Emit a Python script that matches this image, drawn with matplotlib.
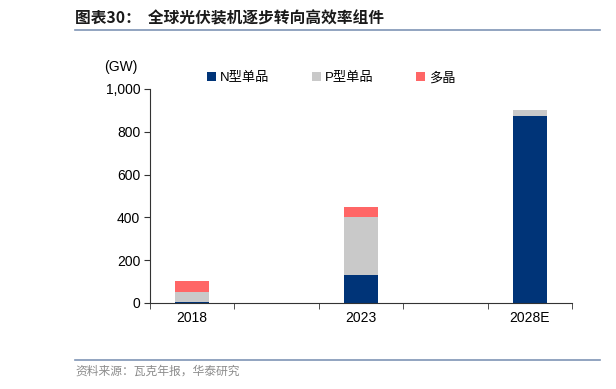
import matplotlib.pyplot as plt
from matplotlib.lines import Line2D
from matplotlib.patches import Patch

plt.rcParams['font.family'] = ['Liberation Sans', 'Noto Sans CJK SC', 'DejaVu Sans']

# 数据
anos = ['2018', '', '2023', '', '2028E']
n_mono = [6, 0, 131, 0, 874]
p_mono = [47, 0, 271, 0, 28]
poli = [51, 0, 47, 0, 0]
series_names = ['N型单品', 'P型单品', '多晶']
cores = ['#003478', '#C9C9C9', '#FF6666']

fig = plt.figure(figsize=(6.16, 3.89), dpi=100)
ax = fig.add_axes([150 / 616, 1 - 303 / 389, 422 / 616, 214 / 389])

x = list(range(len(anos)))
base2 = [a + b for a, b in zip(n_mono, p_mono)]
ax.bar(x, n_mono, width=0.4, color=cores[0], label=series_names[0])
ax.bar(x, p_mono, width=0.4, bottom=n_mono, color=cores[1], label=series_names[1])
ax.bar(x, poli, width=0.4, bottom=base2, color=cores[2], label=series_names[2])

ax.set_xlim(-0.5, 4.5)
ax.set_ylim(0, 1000)
ax.set_yticks([0, 200, 400, 600, 800, 1000])
ax.set_yticklabels(['0', '200', '400', '600', '800', '1,000'], fontsize=10)
ax.set_xticks([0, 2, 4])
ax.set_xticklabels([anos[0], anos[2], anos[4]], fontsize=10)
ax.tick_params(axis='x', length=0, pad=6)
ax.set_xticks([-0.5, 0.5, 1.5, 2.5, 3.5, 4.5], minor=True)
ax.tick_params(axis='x', which='minor', length=4, color='#333333')
ax.tick_params(axis='y', length=4, color='#333333', pad=3)
for s in ['top', 'right']:
    ax.spines[s].set_visible(False)
ax.spines['left'].set_color('#333333')
ax.spines['bottom'].set_color('#333333')

fig.text(104 / 616, 1 - 67 / 389, '(GW)', fontsize=10, va='center', ha='left')

# legenda
handles = [Patch(facecolor=c, edgecolor='none') for c in cores]
fig.legend(handles, series_names, loc='center', bbox_to_anchor=(331 / 616, 1 - 78 / 389),
           ncol=3, frameon=False, handlelength=0.7, handleheight=0.7,
           handletextpad=0.3, columnspacing=3.2,
           prop={'family': ['Liberation Sans', 'Noto Sans CJK SC'], 'size': 9.5})

# titulo e rodape
fig.text(75 / 616, 1 - 18 / 389, '图表30：  全球光伏装机逐步转向高效率组件', fontsize=11.3,
         fontweight='bold', va='center', ha='left', color='#1a1a1a',
         family=['Noto Sans CJK SC'])
fig.add_artist(Line2D([75 / 616, 600 / 616], [1 - 30 / 389] * 2, color='#7F95B5', lw=1.2))
fig.add_artist(Line2D([75 / 616, 600 / 616], [1 - 360 / 389] * 2, color='#7F95B5', lw=1.2))
fig.text(75 / 616, 1 - 371 / 389, '资料来源：瓦克年报，华泰研究', fontsize=8.5,
         va='center', ha='left', color='#8c8c8c', family=['Noto Sans CJK SC'])

fig.savefig('out.png', dpi=100)
